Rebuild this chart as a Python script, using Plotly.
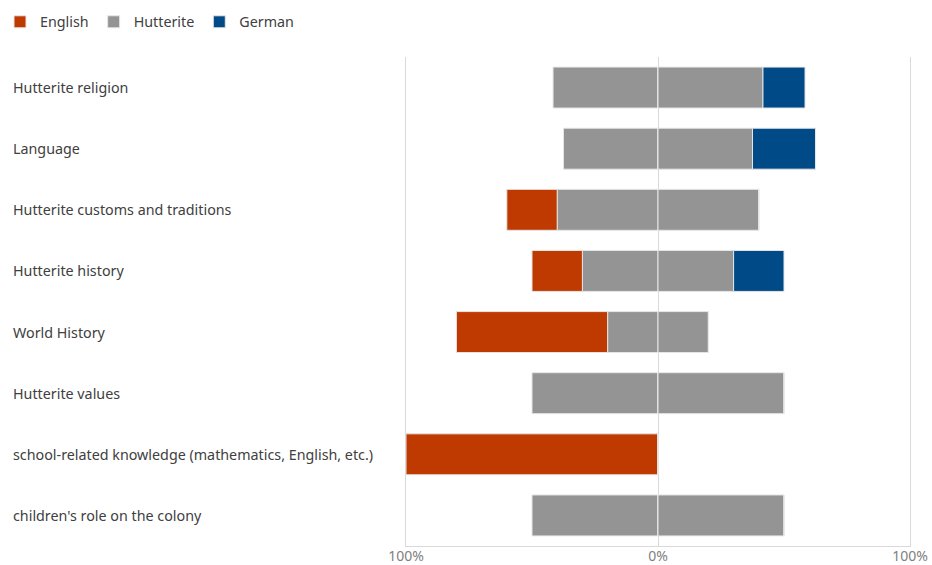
import plotly.graph_objects as go

# Share of responses per topic (percent of all answers for that topic)
topics = [
    "Hutterite religion",
    "Language",
    "Hutterite customs and traditions",
    "Hutterite history",
    "World History",
    "Hutterite values",
    "school-related knowledge (mathematics, English, etc.)",
    "children's role on the colony",
]
english = [0, 0, 20, 20, 60, 0, 100, 0]
hutterite = [83.3, 75, 80, 60, 40, 100, 0, 100]
german = [16.7, 25, 0, 20, 0, 0, 0, 0]

tick_vals = [-100, 0, 100]
tick_text = ["100%", "0%", "100%"]

c_en = "#bf3a00"
c_hu = "#949494"
c_de = "#004a87"
edge = dict(color="#e6e6e6", width=1)

half = [h / 2 for h in hutterite]

fig = go.Figure()
# Hutterite split evenly around zero; English extends left, German right
fig.add_trace(go.Bar(y=topics, x=[-v for v in half], orientation="h", name="Hutterite",
                     marker=dict(color=c_hu, line=edge), legendgroup="hu",
                     legendrank=2, showlegend=True))
fig.add_trace(go.Bar(y=topics, x=[-v for v in english], orientation="h", name="English",
                     marker=dict(color=c_en, line=edge), legendrank=1))
fig.add_trace(go.Bar(y=topics, x=half, orientation="h", name="Hutterite",
                     marker=dict(color=c_hu, line=edge), legendgroup="hu",
                     showlegend=False))
fig.add_trace(go.Bar(y=topics, x=german, orientation="h", name="German",
                     marker=dict(color=c_de, line=edge), legendrank=3))

W, H = 932, 565
plot_left, plot_right = 406, 910
plot_top, plot_bottom = 57, 546
plot_w = plot_right - plot_left
for t in topics:
    fig.add_annotation(x=(11 - plot_left) / plot_w, xref="paper", y=t, yref="y",
                       text=t, showarrow=False, xanchor="left", yanchor="middle",
                       font=dict(size=14.3, color="#404040"))

fig.update_layout(
    width=W, height=H,
    margin=dict(l=plot_left, r=W - plot_right, t=plot_top, b=H - plot_bottom),
    barmode="relative",
    bargap=0.33,
    paper_bgcolor="white",
    plot_bgcolor="white",
    font=dict(family="Noto Sans, Open Sans, sans-serif", size=14, color="#404040"),
    legend=dict(orientation="h", xref="container", yref="container",
                x=-6 / W, xanchor="left", y=1 - 22 / H, yanchor="middle",
                font=dict(size=14.3, color="#404040"), itemwidth=30,
                traceorder="normal"),
    xaxis=dict(range=[-100, 100], tickvals=tick_vals, ticktext=tick_text,
               showgrid=True, gridcolor="#d9d9d9", zeroline=True,
               zerolinecolor="#d9d9d9", zerolinewidth=1,
               showline=True, linecolor="#d9d9d9", linewidth=1, ticklen=0,
               ticklabelstandoff=-3,
               tickfont=dict(size=14, color="#808080"), automargin=False,
               fixedrange=True),
    yaxis=dict(autorange="reversed", showticklabels=False, showgrid=False,
               showline=True, mirror=True, linecolor="#d9d9d9", linewidth=1,
               zeroline=False, automargin=False, fixedrange=True),
    showlegend=True,
)

fig.write_html("out.html")
